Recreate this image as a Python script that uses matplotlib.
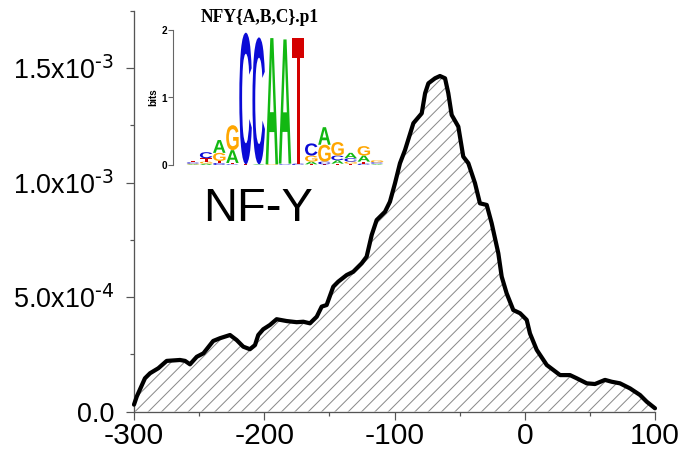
import numpy as np
import matplotlib
matplotlib.use("Agg")
import matplotlib.pyplot as plt
from matplotlib.textpath import TextPath
from matplotlib.patches import PathPatch
from matplotlib.font_manager import FontProperties
import matplotlib.transforms as mtrans

# ---------------- data ----------------
position = [-300, -297.9, -291.6, -287.7, -281.3, -274.9, -264.7, -260.8, -257.0, -251.8,
            -246.7, -239.2, -234.0, -226.3, -221.2, -216.1, -211.0, -207.1, -204.6, -200.8,
            -195.6, -190.5, -182.8, -175.1, -170.0, -164.9, -159.7, -155.9, -152.1, -147.0,
            -143.2, -136.7, -131.7, -125.2, -121.4, -117.5, -113.7, -107.3, -103.5, -99.6,
            -95.8, -91.9, -85.5, -79.1, -76.5, -74.0, -68.9, -65.1, -61.2, -58.7,
            -56.1, -51.0, -47.2, -43.3, -38.2, -34.4, -29.2, -25.4, -20.3, -17.7,
            -13.9, -8.8, -3.6, 1.5, 4.0, 9.2, 16.9, 27.1, 34.7, 39.9,
            47.6, 53.9, 61.6, 66.7, 73.1, 80.8, 88.5, 93.6, 100]
density_e4 = [0.30, 0.65, 1.45, 1.67, 1.89, 2.21, 2.25, 2.21, 2.06, 2.39,
              2.54, 3.08, 3.20, 3.34, 3.12, 2.83, 2.72, 2.90, 3.34, 3.59,
              3.78, 4.03, 3.95, 3.90, 3.92, 3.85, 4.14, 4.58, 4.65, 5.45,
              5.67, 5.96, 6.10, 6.47, 6.76, 7.71, 8.36, 8.72, 9.16, 9.97,
              10.84, 11.42, 12.59, 13.02, 13.90, 14.33, 14.55, 14.65, 14.55, 13.90,
              12.95, 12.44, 11.13, 10.84, 9.97, 9.09, 9.02, 8.22, 6.91, 5.89,
              5.16, 4.43, 4.29, 4.00, 3.41, 2.69, 2.03, 1.59, 1.59, 1.45,
              1.23, 1.20, 1.38, 1.30, 1.23, 1.01, 0.72, 0.43, 0.14]
density = np.array(density_e4) * 1e-4

x_ticks = [-300, -200, -100, 0, 100]
x_tick_labels = ["-300", "-200", "-100", "0", "100"]
y_ticks = [0.0, 5.0e-4, 1.0e-3, 1.5e-3]
y_tick_labels = ["0.0", r"5.0x10$^{\text{-4}}$", r"1.0x10$^{\text{-3}}$", r"1.5x10$^{\text{-3}}$"]

motif_name = "NFY{A,B,C}.p1"
factor_label = "NF-Y"
# sequence logo: information (bits) per base for 15 positions
A_bits = [0.01, 0.02, 0.19, 0.19, 0.00, 0.01, 1.87, 1.84, 0.00, 0.04, 0.26, 0.05, 0.08, 0.09, 0.01]
C_bits = [0.02, 0.09, 0.03, 0.01, 1.95, 1.88, 0.00, 0.01, 0.02, 0.18, 0.04, 0.07, 0.05, 0.02, 0.02]
G_bits = [0.01, 0.03, 0.12, 0.37, 0.00, 0.00, 0.01, 0.00, 0.00, 0.09, 0.25, 0.20, 0.03, 0.14, 0.03]
T_bits = [0.02, 0.05, 0.03, 0.02, 0.01, 0.00, 0.00, 0.01, 1.86, 0.01, 0.01, 0.02, 0.02, 0.03, 0.01]

# ---------------- style ----------------
DPI = 80
W, H = 687, 453
plt.rcParams['font.family'] = ['Liberation Sans', 'DejaVu Sans']
plt.rcParams['mathtext.default'] = 'regular'
plt.rcParams['hatch.linewidth'] = 0.9

def px2pt(p):
    return p * 72.0 / DPI

fig = plt.figure(figsize=(W / DPI, H / DPI), dpi=DPI)
ax = fig.add_axes([134 / W, (H - 411.5) / H, 521 / W, (411.5 - 10.75) / H])

ax.fill_between(position, density, 0, facecolor='none', edgecolor='#8a8a8a',
                hatch='//', linewidth=0)
ax.plot(position, density, color='black', lw=px2pt(4.2), solid_capstyle='round',
        solid_joinstyle='round', clip_on=False, zorder=3)

ax.set_xlim(-300, 100)
ax.set_ylim(0, 1.75e-3)
for s in ['top', 'right']:
    ax.spines[s].set_visible(False)
for s in ['left', 'bottom']:
    ax.spines[s].set_color('#555555')
    ax.spines[s].set_linewidth(px2pt(1.3))

ax.set_xticks(x_ticks)
ax.set_xticklabels(x_tick_labels)
ax.set_xticks(np.arange(-250, 100, 100), minor=True)
ax.set_yticks(y_ticks)
ax.set_yticklabels(y_tick_labels)
ax.set_yticks(np.arange(2.5e-4, 1.8e-3, 5e-4), minor=True)
ax.tick_params(axis='both', which='major', direction='out', length=px2pt(8),
               width=px2pt(1.2), color='#555555')
ax.tick_params(axis='both', which='minor', direction='out', length=px2pt(4),
               width=px2pt(1.2), color='#555555')
ax.tick_params(axis='x', labelsize=px2pt(30), pad=px2pt(2))
ax.tick_params(axis='y', labelsize=px2pt(27), pad=px2pt(12))

ax.text(258 / W, 1 - 209 / H, factor_label, transform=fig.transFigure,
        fontsize=px2pt(47), ha='center', va='center')

# ---------------- sequence logo inset ----------------
col0_px, col_step_px = 193.0, 13.14
x_left_px, x_right_px = 173.0, 385.0
xl = 1 + (x_left_px - col0_px) / col_step_px
xr = 1 + (x_right_px - col0_px) / col_step_px
lax = fig.add_axes([x_left_px / W, (H - 165) / H, (x_right_px - x_left_px) / W, 135 / H])
lax.set_facecolor('none')
lax.set_xlim(xl, xr)
lax.set_ylim(0, 2)
for s in ['top', 'right', 'bottom']:
    lax.spines[s].set_visible(False)
lax.spines['left'].set_color('#666666')
lax.spines['left'].set_linewidth(px2pt(1.1))
lax.set_xticks([])
lax.set_yticks([0, 1, 2])
lax.set_yticklabels(['0', '1', '2'], fontweight='bold')
lax.tick_params(axis='y', direction='out', length=px2pt(5), width=px2pt(1.1),
                color='#666666', labelsize=px2pt(10), pad=px2pt(1))
lax.set_ylabel('bits', fontsize=px2pt(10), fontweight='bold', labelpad=px2pt(3))

colors = {'A': '#12b812', 'C': '#0b0bd6', 'G': '#ffa600', 'T': '#d40000'}
fp = FontProperties(family='Liberation Sans', weight='bold')

def draw_letter(axx, ch, xc, y0, w, h, color):
    tp = TextPath((0, 0), ch, size=1, prop=fp)
    bb = tp.get_extents()
    t = (mtrans.Affine2D().translate(-bb.x0, -bb.y0)
         .scale(w / bb.width, h / bb.height).translate(xc - w / 2, y0))
    axx.add_patch(PathPatch(t.transform_path(tp), facecolor=color, lw=0))

bits = {'A': A_bits, 'C': C_bits, 'G': G_bits, 'T': T_bits}
for i in range(len(A_bits)):
    stack = sorted([(bits[b][i], b) for b in 'ACGT' if bits[b][i] > 0])
    y0 = 0.0
    for h, b in stack:
        draw_letter(lax, b, i + 1, y0, 0.95, h, colors[b])
        y0 += h

fig.text(260 / W, 1 - 17 / H, motif_name, fontsize=px2pt(17.5), fontweight='bold',
         family=['Liberation Serif', 'DejaVu Serif'], ha='center', va='center')

fig.savefig('out.png', dpi=DPI)
